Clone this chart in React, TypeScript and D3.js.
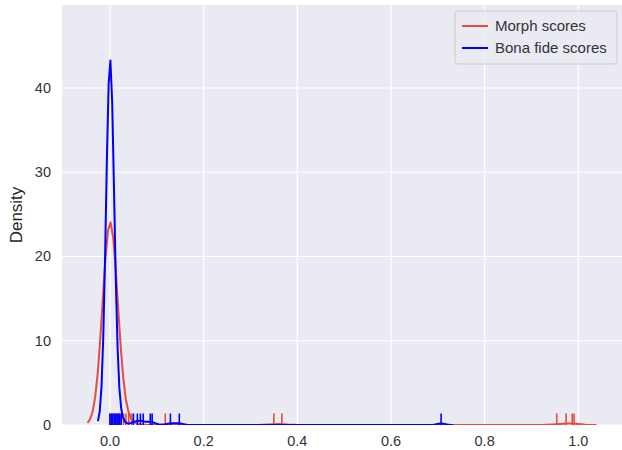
import React, { useEffect, useRef } from 'react';
import * as d3 from 'd3';

const morphValues = [0.0, 0.005, 0.01, 0.015, 0.02, 0.029, 0.034, 0.04, 0.046, 0.118, 0.35, 0.367, 0.954, 0.974, 0.987, 0.991];
const morphCounts = [380, 8, 5, 3, 2, 1, 1, 1, 1, 1, 1, 1, 1, 1, 1, 1];
const bonaValues = [0.0, 0.003, 0.006, 0.009, 0.012, 0.015, 0.018, 0.021, 0.024, 0.05, 0.0585, 0.065, 0.071, 0.086, 0.09, 0.129, 0.148, 0.707];
const bonaCounts = [230, 6, 4, 3, 2, 2, 1, 1, 1, 1, 1, 1, 1, 1, 1, 1, 1, 1];
const morphBw = 0.016;
const bonaBw = 0.0086;

const xTicks = [0, 0.2, 0.4, 0.6, 0.8, 1.0];
const yTicks = [0, 10, 20, 30, 40];
const seriesNames = ['Morph scores', 'Bona fide scores'];
const seriesColors = ['#e74c3c', '#0000ff'];

const W = 622;
const H = 450;

function kde(values: number[], counts: number[], bw: number, gridsize = 200) {
    const n = d3.sum(counts);
    const lo = d3.min(values)! - 3 * bw;
    const hi = d3.max(values)! + 3 * bw;
    const norm = 1 / (n * bw * Math.sqrt(2 * Math.PI));
    const out: [number, number][] = [];
    for (let i = 0; i < gridsize; i++) {
        const x = lo + (hi - lo) * i / (gridsize - 1);
        let s = 0;
        values.forEach((v, j) => {
            const z = (x - v) / bw;
            s += counts[j] * Math.exp(-0.5 * z * z);
        });
        out.push([x, s * norm]);
    }
    return out;
}

const App: React.FC = () => {
    const svgRef = useRef<SVGSVGElement>(null);

    useEffect(() => {
        if (!svgRef.current) return;
        const svg = d3.select(svgRef.current);
        svg.selectAll('*').remove();

        const plot = { left: 62, top: 5, right: 622, bottom: 425 };
        const xScale = d3.scaleLinear().domain([-0.1025, 1.0933]).range([plot.left, plot.right]);
        const yScale = d3.scaleLinear().domain([0, 49.85]).range([plot.bottom, plot.top]);
        const font = '"Liberation Sans", Arial, sans-serif';
        const textColor = '#333333';

        svg.append('rect')
            .attr('x', plot.left)
            .attr('y', plot.top)
            .attr('width', plot.right - plot.left)
            .attr('height', plot.bottom - plot.top)
            .attr('fill', '#eaeaf2');

        const clip = svg.append('clipPath').attr('id', 'plotclip');
        clip.append('rect')
            .attr('x', plot.left)
            .attr('y', plot.top)
            .attr('width', plot.right - plot.left)
            .attr('height', plot.bottom - plot.top);

        // grid
        svg.append('g')
            .selectAll('line')
            .data(xTicks)
            .join('line')
            .attr('x1', d => xScale(d))
            .attr('x2', d => xScale(d))
            .attr('y1', plot.top)
            .attr('y2', plot.bottom)
            .attr('stroke', '#fff')
            .attr('stroke-width', 1.2);

        svg.append('g')
            .selectAll('line')
            .data(yTicks)
            .join('line')
            .attr('x1', plot.left)
            .attr('x2', plot.right)
            .attr('y1', d => yScale(d))
            .attr('y2', d => yScale(d))
            .attr('stroke', '#fff')
            .attr('stroke-width', 1.2);

        // tick labels
        svg.append('g')
            .selectAll('text')
            .data(xTicks)
            .join('text')
            .attr('x', d => xScale(d))
            .attr('y', 446)
            .attr('text-anchor', 'middle')
            .attr('fill', textColor)
            .style('font-family', font)
            .style('font-size', '14.5px')
            .text(d => d3.format('.1f')(d));

        svg.append('g')
            .selectAll('text')
            .data(yTicks)
            .join('text')
            .attr('x', 51)
            .attr('y', d => yScale(d) + 5)
            .attr('text-anchor', 'end')
            .attr('fill', textColor)
            .style('font-family', font)
            .style('font-size', '14.5px')
            .text(d => d);

        svg.append('text')
            .attr('transform', `translate(22,${(plot.top + plot.bottom) / 2}) rotate(-90)`)
            .attr('text-anchor', 'middle')
            .attr('fill', '#262626')
            .style('font-family', font)
            .style('font-size', '17px')
            .text('Density');

        const g = svg.append('g').attr('clip-path', 'url(#plotclip)');
        const line = d3.line<[number, number]>()
            .x(d => xScale(d[0]))
            .y(d => yScale(d[1]));

        const series = [
            { values: morphValues, counts: morphCounts, bw: morphBw },
            { values: bonaValues, counts: bonaCounts, bw: bonaBw },
        ];
        const rugH = (plot.bottom - plot.top) * 0.025;

        series.forEach((s, i) => {
            g.append('path')
                .attr('d', line(kde(s.values, s.counts, s.bw)))
                .attr('fill', 'none')
                .attr('stroke', seriesColors[i])
                .attr('stroke-width', 2)
                .attr('stroke-linejoin', 'round');

            g.append('g')
                .selectAll('line')
                .data(s.values)
                .join('line')
                .attr('x1', d => xScale(d))
                .attr('x2', d => xScale(d))
                .attr('y1', plot.bottom)
                .attr('y2', plot.bottom - rugH - 1)
                .attr('stroke', seriesColors[i])
                .attr('stroke-width', 1.6);
        });

        // legend
        const lg = svg.append('g').attr('transform', 'translate(455,11)');
        lg.append('rect')
            .attr('width', 162)
            .attr('height', 53)
            .attr('rx', 3)
            .attr('fill', '#eaeaf2')
            .attr('fill-opacity', 0.8)
            .attr('stroke', '#cccccc')
            .attr('stroke-width', 1);

        seriesNames.forEach((name, i) => {
            const y = 15 + i * 22;
            lg.append('line')
                .attr('x1', 7)
                .attr('x2', 33)
                .attr('y1', y)
                .attr('y2', y)
                .attr('stroke', seriesColors[i])
                .attr('stroke-width', 2);
            lg.append('text')
                .attr('x', 40)
                .attr('y', y + 5)
                .attr('fill', textColor)
                .style('font-family', font)
                .style('font-size', '15px')
                .text(name);
        });
    }, []);

    return (
        <svg ref={svgRef} width={W} height={H}
            style={{ position: 'absolute', left: 0, top: 0, background: '#fff' }} />
    );
};

export default App;
